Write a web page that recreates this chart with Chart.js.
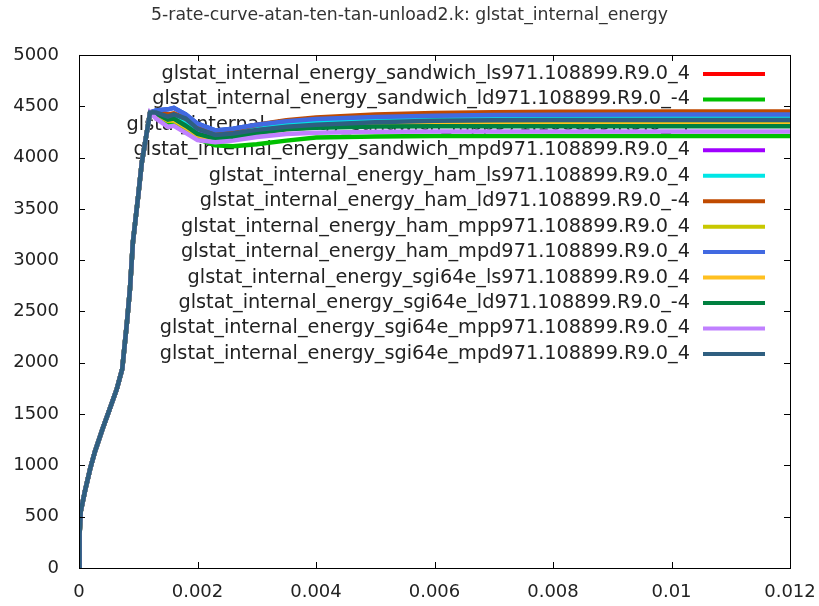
<!DOCTYPE html>
<html>
<head>
<meta charset="utf-8">
<script src="https://cdn.jsdelivr.net/npm/chart.js@4"></script>
<style>
  html, body { margin: 0; padding: 0; background: #fff; }
  #wrap { width: 819px; height: 606px; }
</style>
</head>
<body>
<div id="wrap"><canvas id="myChart"></canvas></div>
<script>
// valores
const times = [0, 0.00001, 0.00003, 0.0001, 0.00019, 0.00027, 0.0004, 0.00052, 0.00064, 0.00073,
  0.00081, 0.00086, 0.00091, 0.001, 0.00106, 0.0012,
  0.0013, 0.0015, 0.0016, 0.0018, 0.002, 0.0023, 0.0026, 0.003, 0.0035, 0.004,
  0.005, 0.006, 0.007, 0.008, 0.01, 0.012];

// subida comum a todas as curvas (até t = 0.0012)
const rise = [0, 330, 553, 748, 971, 1136, 1360, 1553, 1748, 1942,
  2398, 2718, 3175, 3631, 3951, 4440];

const labels = [
  'glstat_internal_energy_sandwich_ls971.108899.R9.0_4',
  'glstat_internal_energy_sandwich_ld971.108899.R9.0_-4',
  'glstat_internal_energy_sandwich_mpp971.108899.R9.0_-4',
  'glstat_internal_energy_sandwich_mpd971.108899.R9.0_4',
  'glstat_internal_energy_ham_ls971.108899.R9.0_4',
  'glstat_internal_energy_ham_ld971.108899.R9.0_-4',
  'glstat_internal_energy_ham_mpp971.108899.R9.0_4',
  'glstat_internal_energy_ham_mpd971.108899.R9.0_4',
  'glstat_internal_energy_sgi64e_ls971.108899.R9.0_4',
  'glstat_internal_energy_sgi64e_ld971.108899.R9.0_-4',
  'glstat_internal_energy_sgi64e_mpp971.108899.R9.0_4',
  'glstat_internal_energy_sgi64e_mpd971.108899.R9.0_4'
];

const colors = ['#ff0000', '#00c000', '#1e60e0', '#a000ff', '#00e6e6', '#c04a00',
  '#c8c800', '#4169e1', '#ffc020', '#008040', '#c080ff', '#2f5f80'];

// parte final de cada curva (t >= 0.0013)
const sandwichLs  = [4430, 4380, 4390, 4330, 4250, 4200, 4220, 4265, 4310, 4340, 4365, 4375, 4378, 4380, 4380, 4380];
const sandwichLd  = [4410, 4330, 4340, 4270, 4180, 4120, 4110, 4130, 4165, 4195, 4205, 4210, 4210, 4210, 4210, 4210];
const sandwichMpp = [4460, 4470, 4485, 4420, 4330, 4265, 4280, 4320, 4355, 4375, 4395, 4408, 4415, 4418, 4420, 4420];
const sandwichMpd = [4420, 4380, 4400, 4340, 4260, 4210, 4230, 4280, 4325, 4350, 4375, 4385, 4390, 4395, 4395, 4395];
const hamLs       = [4430, 4390, 4410, 4360, 4280, 4230, 4250, 4295, 4335, 4355, 4375, 4385, 4390, 4395, 4395, 4395];
const hamLd       = [4450, 4420, 4430, 4380, 4300, 4250, 4270, 4320, 4365, 4390, 4420, 4435, 4442, 4446, 4450, 4450];
const hamMpp      = [4420, 4360, 4360, 4290, 4210, 4170, 4190, 4235, 4275, 4298, 4318, 4326, 4330, 4330, 4330, 4330];
const hamMpd      = [4460, 4470, 4485, 4420, 4330, 4265, 4280, 4320, 4355, 4375, 4395, 4408, 4415, 4418, 4420, 4420];
const sgiLs       = [4420, 4370, 4370, 4300, 4220, 4180, 4200, 4240, 4280, 4300, 4314, 4318, 4320, 4320, 4320, 4320];
const sgiLd       = [4430, 4370, 4380, 4310, 4230, 4185, 4200, 4240, 4275, 4290, 4302, 4305, 4305, 4305, 4305, 4305];
const sgiMpp      = [4380, 4300, 4310, 4240, 4170, 4150, 4165, 4200, 4230, 4243, 4252, 4255, 4255, 4255, 4255, 4255];
const sgiMpd      = [4440, 4400, 4420, 4380, 4280, 4220, 4235, 4270, 4300, 4320, 4345, 4358, 4363, 4365, 4365, 4365];

const tails = [sandwichLs, sandwichLd, sandwichMpp, sandwichMpd, hamLs, hamLd,
  hamMpp, hamMpd, sgiLs, sgiLd, sgiMpp, sgiMpd];

const xTicks = [0, 0.002, 0.004, 0.006, 0.008, 0.01, 0.012];
const yTicks = [0, 500, 1000, 1500, 2000, 2500, 3000, 3500, 4000, 4500, 5000];

const FONT = '"DejaVu Sans", "Liberation Sans", sans-serif';

// legenda estilo gnuplot: texto à direita, amostra da linha depois, desenhada por baixo das curvas
const keyBox = {
  id: 'keyBox',
  beforeDatasetsDraw(chart) {
    const { ctx, chartArea: a } = chart;
    ctx.save();
    ctx.font = '19.3px ' + FONT;
    ctx.textAlign = 'right';
    ctx.textBaseline = 'middle';
    chart.data.datasets.forEach((ds, i) => {
      const yy = a.top + 19 + i * 25.45;
      ctx.fillStyle = '#222';
      ctx.fillText(ds.label, a.right - 100, yy);
      ctx.strokeStyle = ds.borderColor;
      ctx.lineWidth = 4;
      ctx.beginPath();
      ctx.moveTo(a.right - 87, yy);
      ctx.lineTo(a.right - 25, yy);
      ctx.stroke();
    });
    ctx.restore();
  }
};

// moldura e marcas para dentro
const frame = {
  id: 'frame',
  afterDraw(chart) {
    const { ctx, chartArea: a, scales: { x, y } } = chart;
    ctx.save();
    ctx.strokeStyle = '#000';
    ctx.lineWidth = 1;
    ctx.strokeRect(Math.round(a.left) + 0.5, Math.round(a.top) + 0.5,
      Math.round(a.right - a.left), Math.round(a.bottom - a.top));
    ctx.beginPath();
    xTicks.forEach(v => {
      const px = Math.round(x.getPixelForValue(v)) + 0.5;
      ctx.moveTo(px, a.bottom); ctx.lineTo(px, a.bottom - 6);
      ctx.moveTo(px, a.top); ctx.lineTo(px, a.top + 6);
    });
    yTicks.forEach(v => {
      const py = Math.round(y.getPixelForValue(v)) + 0.5;
      ctx.moveTo(a.left, py); ctx.lineTo(a.left + 6, py);
      ctx.moveTo(a.right, py); ctx.lineTo(a.right - 6, py);
    });
    ctx.stroke();
    ctx.restore();
  }
};

document.addEventListener('DOMContentLoaded', function() {
  const canvas = document.getElementById('myChart');

  const datasets = labels.map((lab, i) => ({
    label: lab,
    data: times.map((t, k) => ({ x: t, y: k < rise.length ? rise[k] : tails[i][k - rise.length] })),
    borderColor: colors[i],
    backgroundColor: colors[i],
    borderWidth: 4.5,
    pointRadius: 0,
    fill: false,
    tension: 0,
    order: -i
  }));

  new Chart(canvas, {
    type: 'line',
    data: { datasets: datasets },
    options: {
      responsive: true,
      maintainAspectRatio: false,
      animation: false,
      layout: { padding: { left: 0, right: 0, top: 0, bottom: 0 } },
      plugins: {
        legend: { display: false },
        tooltip: { enabled: false },
        title: {
          display: true,
          text: '5-rate-curve-atan-ten-tan-unload2.k: glstat_internal_energy',
          color: '#333',
          font: { family: FONT, size: 17.3, weight: 'normal' },
          padding: { top: 5.6, bottom: 28.6 }
        }
      },
      scales: {
        x: {
          type: 'linear',
          min: 0,
          max: 0.012,
          afterBuildTicks: s => { s.ticks = xTicks.map(v => ({ value: v })); },
          afterFit: s => { s.height = 38; s.paddingRight = 29; },
          grid: { display: false, drawTicks: false },
          border: { display: false },
          ticks: {
            color: '#222',
            font: { family: FONT, size: 18 },
            padding: 14,
            maxRotation: 0,
            callback: v => String(+v.toFixed(3))
          }
        },
        y: {
          type: 'linear',
          min: 0,
          max: 5000,
          afterBuildTicks: s => { s.ticks = yTicks.map(v => ({ value: v })); },
          afterFit: s => { s.width = 79; },
          grid: { display: false, drawTicks: false },
          border: { display: false },
          ticks: {
            color: '#222',
            font: { family: FONT, size: 18 },
            padding: 20,
            callback: v => String(v)
          }
        }
      }
    },
    plugins: [keyBox, frame]
  });
});
</script>
</body>
</html>
